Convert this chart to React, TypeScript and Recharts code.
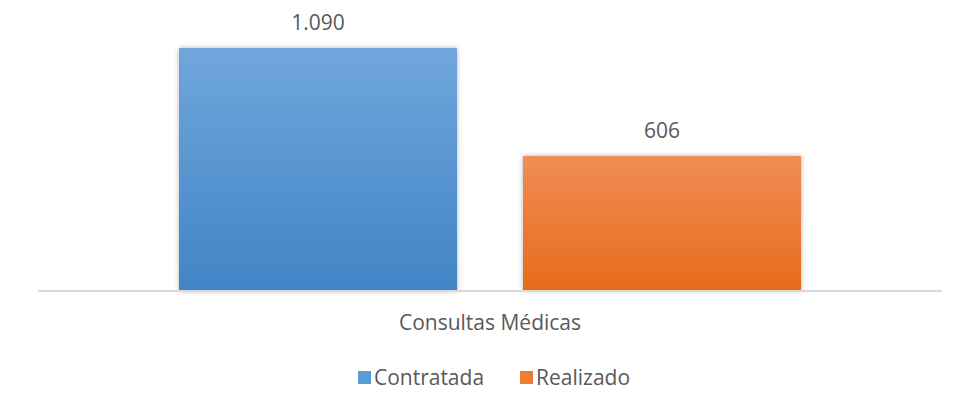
import { Bar, BarChart, LabelList, XAxis, YAxis } from 'recharts';

const categories = ['Consultas Médicas'];
const contratada = [1090];
const realizado = [606];
const seriesNames = ['Contratada', 'Realizado'];
const seriesColors = ['#5b9bd5', '#ed7d31'];

const data = categories.map((name, i) => ({
  name,
  contratada: contratada[i],
  realizado: realizado[i],
}));

const fmt = (v: number) => String(v).replace(/\B(?=(\d{3})+(?!\d))/g, '.');

const font = '"Open Sans", sans-serif';
const textColor = '#595959';

function ChartLegend() {
  return (
    <div
      style={{
        position: 'absolute',
        top: 363,
        left: 0,
        width: 955,
        display: 'flex',
        justifyContent: 'center',
        fontFamily: font,
        fontSize: 21,
        color: textColor,
        paddingLeft: 33,
        boxSizing: 'border-box',
      }}
    >
      {seriesNames.map((s, i) => (
        <div key={s} style={{ display: 'flex', alignItems: 'center', marginRight: i === 0 ? 36 : 0 }}>
          <span style={{ width: 13, height: 13, background: seriesColors[i], marginRight: 3, display: 'inline-block' }} />
          <span>{s}</span>
        </div>
      ))}
    </div>
  );
}

export default function App() {
  return (
    <div style={{ position: 'absolute', left: 0, top: 0, width: 955, height: 408, background: '#fff' }}>
      <BarChart
        width={955}
        height={408}
        data={data}
        margin={{ top: 48, right: 13, left: 38, bottom: 77 }}
        barSize={278}
        barGap={66}
      >
        <defs>
          <linearGradient id="gradBlue" x1="0" y1="0" x2="0" y2="1">
            <stop offset="0%" stopColor="#70a6dc" />
            <stop offset="100%" stopColor="#4184c6" />
          </linearGradient>
          <linearGradient id="gradOrange" x1="0" y1="0" x2="0" y2="1">
            <stop offset="0%" stopColor="#f18d55" />
            <stop offset="100%" stopColor="#e66b1a" />
          </linearGradient>
          <filter id="shadow" x="-10%" y="-10%" width="120%" height="120%">
            <feDropShadow dx="0" dy="0" stdDeviation="2.5" floodColor="#000" floodOpacity="0.3" />
          </filter>
        </defs>
        <XAxis
          dataKey="name"
          height={40}
          axisLine={{ stroke: '#d9d9d9', strokeWidth: 2 }}
          tickLine={false}
          tickMargin={18}
          tick={{ fill: textColor, fontSize: 21, fontFamily: font }}
        />
        <YAxis hide domain={[0, 1090]} />
        <Bar dataKey="contratada" fill="url(#gradBlue)" filter="url(#shadow)" isAnimationActive={false}>
          <LabelList
            dataKey="contratada"
            position="top"
            offset={18}
            formatter={(v: any) => fmt(Number(v))}
            style={{ fill: textColor, fontSize: 21, fontFamily: font }}
          />
        </Bar>
        <Bar dataKey="realizado" fill="url(#gradOrange)" filter="url(#shadow)" isAnimationActive={false}>
          <LabelList
            dataKey="realizado"
            position="top"
            offset={18}
            formatter={(v: any) => fmt(Number(v))}
            style={{ fill: textColor, fontSize: 21, fontFamily: font }}
          />
        </Bar>
      </BarChart>
      <ChartLegend />
    </div>
  );
}
